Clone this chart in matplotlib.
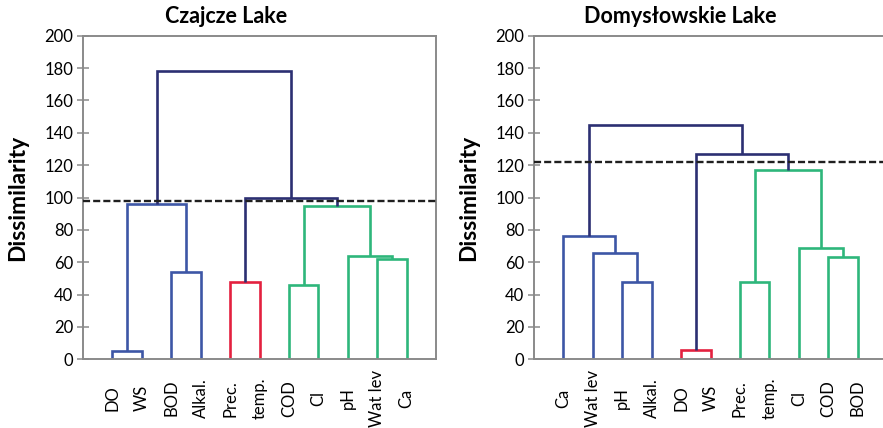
"""Dendrograms of water quality parameters for two lakes."""
import matplotlib
matplotlib.use('Agg')
import matplotlib.pyplot as plt
import matplotlib.transforms as mtransforms

plt.rcParams['font.family'] = ['Lato', 'DejaVu Sans']

# Czajcze Lake
czajcze_labels = ['DO', 'WS', 'BOD', 'Alkal.', 'Prec.', 'temp.', 'COD', 'Cl',
                  'pH', 'Wat lev', 'Ca']
czajcze_pairs = [(0, 1), (2, 3), (11, 12), (4, 5), (6, 7), (9, 10), (8, 16),
                 (15, 17), (14, 18), (13, 19)]
czajcze_heights = [5, 54, 96, 48, 46, 62, 64, 95, 100, 178]
czajcze_groups = ['blue', 'blue', 'blue', 'red', 'green', 'green', 'green',
                  'green', 'top', 'top']
czajcze_cut = 98

# Domysłowskie Lake
domys_labels = ['Ca', 'Wat lev', 'pH', 'Alkal.', 'DO', 'WS', 'Prec.', 'temp.',
                'Cl', 'COD', 'BOD']
domys_pairs = [(2, 3), (1, 11), (0, 12), (4, 5), (6, 7), (9, 10), (8, 16),
               (15, 17), (14, 18), (13, 19)]
domys_heights = [48, 65.5, 76, 5.5, 48, 63, 69, 117, 127, 145]
domys_groups = ['blue', 'blue', 'blue', 'red', 'green', 'green', 'green',
                'green', 'top', 'top']
domys_cut = 122

colors = {'blue': '#3d56a6', 'red': '#e3213f', 'green': '#2eb67b',
          'top': '#2c2f72'}
spine_gray = '#8a8a8a'


def draw_dendrogram(ax, labels, pairs, heights, groups, cut, title, title_x):
    n = len(labels)
    xs = [i + 1 for i in range(n)]
    ys = [0] * n
    for (a, b), h, g in zip(pairs, heights, groups):
        ax.plot([xs[a], xs[a], xs[b], xs[b]], [ys[a], h, h, ys[b]],
                color=colors[g], lw=1.9, solid_joinstyle='miter',
                solid_capstyle='butt', zorder=2)
        xs.append((xs[a] + xs[b]) / 2)
        ys.append(h)

    ax.axhline(cut, color='#1f1f1f', lw=1.7, dashes=(3, 1.3), zorder=3)

    ax.set_xlim(0, 12)
    ax.set_ylim(0, 200)
    ax.set_yticks(range(0, 201, 20))
    ax.set_xticks([])
    ax.tick_params(axis='y', direction='inout', length=8, width=1.1,
                   color=spine_gray, labelsize=12, pad=3)
    for s in ax.spines.values():
        s.set_color(spine_gray)
        s.set_linewidth(1.4)

    trans = mtransforms.blended_transform_factory(ax.transData, ax.transAxes)
    for i, lab in enumerate(labels):
        ax.text(i + 1, -0.12, lab, transform=trans, rotation=90,
                ha='center', va='center', fontsize=12, clip_on=False)

    ax.set_ylabel('Dissimilarity', fontsize=16.5, fontweight='bold')
    ax.yaxis.set_label_coords(-0.155, 0.5)
    ax.figure.text(title_x, 0.962, title, ha='center', va='center',
                   fontsize=15.5, fontweight='bold')


fig = plt.figure(figsize=(8.83, 4.28), dpi=100)
ax1 = fig.add_axes([0.094, 0.1605, 0.3998, 0.756])
ax2 = fig.add_axes([0.6048, 0.1605, 0.3998, 0.756])

draw_dendrogram(ax1, czajcze_labels, czajcze_pairs, czajcze_heights,
                czajcze_groups, czajcze_cut, 'Czajcze Lake', 226 / 883)
draw_dendrogram(ax2, domys_labels, domys_pairs, domys_heights,
                domys_groups, domys_cut, 'Domysłowskie Lake', 680 / 883)

fig.savefig('out.png', dpi=100)
